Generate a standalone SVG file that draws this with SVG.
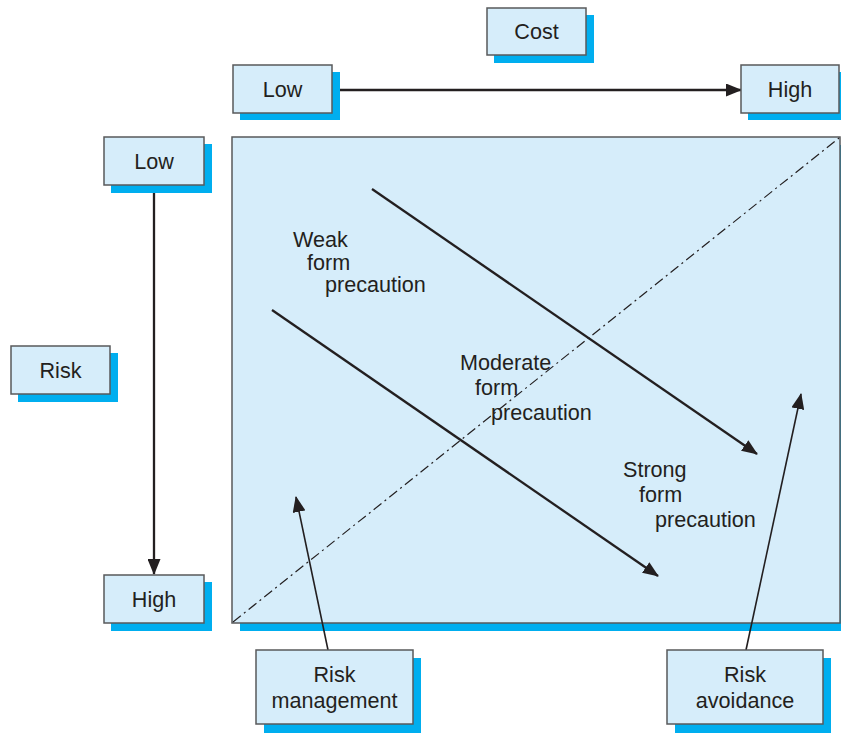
<svg xmlns="http://www.w3.org/2000/svg" width="841" height="733" viewBox="0 0 841 733">
  <style>
    .shadow { fill: #00aeef; }
    .box { fill: #d6edfa; stroke: #58595b; stroke-width: 1.5; }
    .label { font-family: "Liberation Sans", Arial, sans-serif; font-size: 21.6px; fill: #231f20; }
    .mid { text-anchor: middle; }
    .line { stroke: #231f20; stroke-width: 2.3; fill: none; }
    .thin { stroke: #231f20; stroke-width: 1.6; fill: none; }
    .diag { stroke: #231f20; stroke-width: 1.2; fill: none; stroke-dasharray: 10 4 2 4; }
  </style>
  <defs>
    <marker id="head" viewBox="0 0 16 13" refX="15" refY="6.5" markerWidth="16" markerHeight="13" markerUnits="userSpaceOnUse" orient="auto">
      <path d="M0,0 L16,6.5 L0,13 Z" fill="#231f20"/>
    </marker>
  </defs>

  <!-- main square -->
  <g id="field">
    <rect class="shadow" x="240" y="145" width="601" height="486"/>
    <rect class="box" x="232" y="137" width="608" height="486"/>
  </g>

  <!-- connectors -->
  <g id="connectors">
    <line class="diag" x1="233" y1="622" x2="839" y2="138"/>
    <line class="line" x1="340" y1="90" x2="741" y2="90" marker-end="url(#head)"/>
    <line class="line" x1="154" y1="193" x2="154" y2="574" marker-end="url(#head)"/>
    <line class="line" x1="372" y1="189" x2="757" y2="454" marker-end="url(#head)"/>
    <line class="line" x1="272" y1="310" x2="658" y2="576" marker-end="url(#head)"/>
    <line class="thin" x1="328" y1="650" x2="296" y2="497" marker-end="url(#head)"/>
    <line class="thin" x1="746" y1="650" x2="801" y2="394" marker-end="url(#head)"/>
  </g>

  <!-- zone labels -->
  <g id="weak">
    <text class="label" x="293" y="247">Weak</text>
    <text class="label" x="307" y="270">form</text>
    <text class="label" x="325" y="292">precaution</text>
  </g>
  <g id="moderate">
    <text class="label" x="460" y="370">Moderate</text>
    <text class="label" x="475" y="395">form</text>
    <text class="label" x="491" y="420">precaution</text>
  </g>
  <g id="strong">
    <text class="label" x="623" y="477">Strong</text>
    <text class="label" x="639" y="502">form</text>
    <text class="label" x="655" y="527">precaution</text>
  </g>

  <!-- boxes -->
  <g id="cost">
    <rect class="shadow" x="494" y="15" width="100" height="48"/>
    <rect class="box" x="487" y="8" width="99" height="47"/>
    <text class="label mid" x="536.5" y="39">Cost</text>
  </g>
  <g id="cost-low">
    <rect class="shadow" x="240" y="72" width="100" height="48"/>
    <rect class="box" x="233" y="65" width="99" height="48"/>
    <text class="label mid" x="282.5" y="97">Low</text>
  </g>
  <g id="cost-high">
    <rect class="shadow" x="748" y="72" width="93" height="48"/>
    <rect class="box" x="741" y="65" width="98" height="48"/>
    <text class="label mid" x="790" y="97">High</text>
  </g>
  <g id="risk-low">
    <rect class="shadow" x="111" y="144" width="101" height="49"/>
    <rect class="box" x="104" y="137" width="100" height="48"/>
    <text class="label mid" x="154" y="169">Low</text>
  </g>
  <g id="risk">
    <rect class="shadow" x="18" y="353" width="100" height="49"/>
    <rect class="box" x="11" y="346" width="99" height="48"/>
    <text class="label mid" x="60.5" y="378">Risk</text>
  </g>
  <g id="risk-high">
    <rect class="shadow" x="111" y="582" width="101" height="49"/>
    <rect class="box" x="104" y="575" width="100" height="48"/>
    <text class="label mid" x="154" y="607">High</text>
  </g>
  <g id="risk-management">
    <rect class="shadow" x="264" y="658" width="157" height="75"/>
    <rect class="box" x="256" y="650" width="157" height="74"/>
    <text class="label mid" x="334.5" y="682">Risk</text>
    <text class="label mid" x="334.5" y="708">management</text>
  </g>
  <g id="risk-avoidance">
    <rect class="shadow" x="675" y="658" width="156" height="75"/>
    <rect class="box" x="667" y="650" width="156" height="74"/>
    <text class="label mid" x="745" y="682">Risk</text>
    <text class="label mid" x="745" y="708">avoidance</text>
  </g>
</svg>
